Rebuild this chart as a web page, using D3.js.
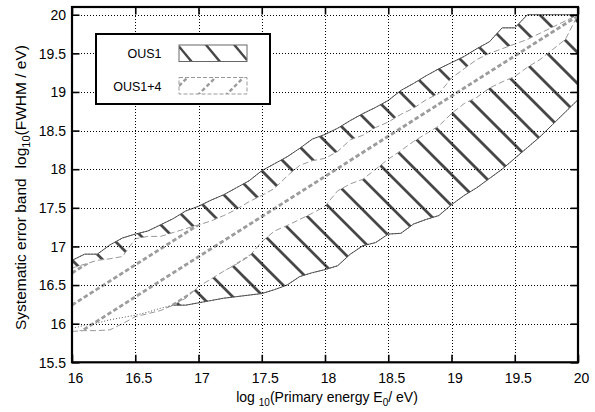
<!DOCTYPE html>
<html>
<head>
<meta charset="utf-8">
<script src="https://cdn.jsdelivr.net/npm/d3@7"></script>
<style>
  html, body { margin: 0; padding: 0; background: #fff; }
  svg { display: block; }
  text { font-family: "Liberation Sans", Arial, Helvetica, sans-serif; fill: #000; }
</style>
</head>
<body>
<svg id="chart" width="595" height="412"></svg>
<script>
// ---------------- data ----------------
const energy = [16.0,16.1,16.2,16.3,16.4,16.5,16.6,16.7,16.8,16.9,
                17.0,17.1,17.2,17.3,17.4,17.5,17.6,17.7,17.8,17.9,
                18.0,18.1,18.2,18.3,18.4,18.5,18.6,18.7,18.8,18.9,
                19.0,19.1,19.2,19.3,19.4,19.5,19.6,19.7,19.8,19.9,20.0];
// OUS1 band (solid outline, "\" hatch)
const ous1Upper = [16.82,16.90,16.90,17.02,17.11,17.16,17.20,17.28,17.36,17.46,
                   17.52,17.60,17.67,17.76,17.85,17.98,18.07,18.16,18.27,18.39,
                   18.45,18.53,18.63,18.72,18.80,18.89,19.02,19.11,19.21,19.30,
                   19.38,19.46,19.56,19.65,19.83,19.83,20.00,20.00,20.00,20.00,20.00];
const ous1Lower = [15.94,15.98,16.01,16.05,16.08,16.11,16.15,16.20,16.24,16.24,
                   16.27,16.30,16.33,16.35,16.37,16.39,16.44,16.50,16.61,16.66,
                   16.70,16.75,16.90,17.01,17.05,17.16,17.17,17.29,17.35,17.40,
                   17.54,17.66,17.76,17.88,18.00,18.14,18.28,18.42,18.58,18.74,18.90];
// OUS1+4 band (dashed outline, "/" dashed hatch)
const ous14Upper = [16.72,16.77,16.82,16.84,16.87,17.10,17.13,17.13,17.18,17.23,
                    17.28,17.33,17.40,17.48,17.58,17.66,17.75,17.91,18.05,18.11,
                    18.14,18.23,18.38,18.44,18.54,18.61,18.71,18.79,18.90,18.98,
                    19.18,19.30,19.42,19.50,19.56,19.62,19.68,19.76,19.84,19.92,20.00];
const ous14Lower = [15.90,15.91,15.91,15.92,16.00,16.09,16.13,16.17,16.24,16.33,
                    16.48,16.58,16.68,16.77,16.87,17.06,17.20,17.27,17.35,17.43,
                    17.52,17.72,17.81,17.87,18.00,18.13,18.24,18.36,18.46,18.56,
                    18.72,18.85,18.93,19.05,19.13,19.20,19.32,19.42,19.55,19.68,20.00];
const xTicks = [16,16.5,17,17.5,18,18.5,19,19.5,20];
const yTicks = [15.5,16,16.5,17,17.5,18,18.5,19,19.5,20];
const legendLabels = ["OUS1","OUS1+4"];

// ---------------- layout ----------------
const svg = d3.select("#chart");
const L = 72, R = 578, T = 7, B = 362.3;
const x = d3.scaleLinear().domain([16,20]).range([L,R]);
const y = d3.scaleLinear().domain([15.5,20.1]).range([B,T]);
const defs = svg.append("defs");

defs.append("clipPath").attr("id","plotClip")
  .append("rect").attr("x",L).attr("y",T).attr("width",R-L).attr("height",B-T);

const pts = energy.map((e,i)=>({e, u1:ous1Upper[i], l1:ous1Lower[i], u4:ous14Upper[i], l4:ous14Lower[i]}));
const area1 = d3.area().x(d=>x(d.e)).y0(d=>y(d.l1)).y1(d=>y(d.u1));
const area4 = d3.area().x(d=>x(d.e)).y0(d=>y(d.l4)).y1(d=>y(d.u4));
const lineU1 = d3.line().x(d=>x(d.e)).y(d=>y(d.u1));
const lineL1 = d3.line().x(d=>x(d.e)).y(d=>y(d.l1));
const lineU4 = d3.line().x(d=>x(d.e)).y(d=>y(d.u4));
const lineL4 = d3.line().x(d=>x(d.e)).y(d=>y(d.l4));

defs.append("clipPath").attr("id","clip1").append("path").attr("d",area1(pts));
defs.append("clipPath").attr("id","clip4").append("path").attr("d",area4(pts));

// hatch family: lines y = slope*x + c0 + k*step, drawn across a box, clipped
function hatchLines(g, box, slope, c0, step, style) {
  const [x0,y0,x1,y1] = box;
  const cs = [y0 - slope*x0, y0 - slope*x1, y1 - slope*x0, y1 - slope*x1];
  const cmin = Math.min(...cs), cmax = Math.max(...cs);
  const kmin = Math.floor((cmin - c0)/step), kmax = Math.ceil((cmax - c0)/step);
  for (let k = kmin; k <= kmax; k++) {
    const c = c0 + k*step;
    const ln = g.append("line").attr("x1",x0).attr("y1",slope*x0 + c)
      .attr("x2",x1).attr("y2",slope*x1 + c);
    Object.entries(style).forEach(([a,v])=>ln.attr(a,v));
  }
}

const plot = svg.append("g").attr("clip-path","url(#plotClip)");

// OUS1 band hatch "\"
const g1 = plot.append("g").attr("clip-path","url(#clip1)");
hatchLines(g1, [L,T,R,B], 1.0, 2, 31, {stroke:"#474747","stroke-width":2.7});
[lineU1, lineL1].forEach(l=>plot.append("path").attr("d",l(pts))
  .attr("fill","none").attr("stroke","#555").attr("stroke-width",1));
// OUS1+4 band (opaque white, dashed "/" hatch)
plot.append("path").attr("d",area4(pts)).attr("fill","#fff").attr("stroke","none");
const g4 = plot.append("g").attr("clip-path","url(#clip4)");
hatchLines(g4, [L,T,R,B], -0.635, 30.8, 32, {stroke:"#9c9c9c","stroke-width":2.8,"stroke-dasharray":"4.5,2.5"});
// OUS1 outline seen through (dotted)
[lineU1, lineL1].forEach(l=>plot.append("path").attr("d",l(pts))
  .attr("fill","none").attr("stroke","#444").attr("stroke-width",0.9).attr("stroke-dasharray","1,2"));

// grid
const grid = svg.append("g").attr("stroke","#000").attr("stroke-width",1)
  .attr("stroke-dasharray","1,2").attr("shape-rendering","crispEdges");
xTicks.filter(v=>v>16 && v<20).forEach(v=>grid.append("line")
  .attr("x1",Math.round(x(v))+0.5).attr("x2",Math.round(x(v))+0.5).attr("y1",T).attr("y2",B));
yTicks.filter(v=>v>15.5).forEach(v=>grid.append("line")
  .attr("x1",L).attr("x2",R).attr("y1",Math.round(y(v))+0.5).attr("y2",Math.round(y(v))+0.5));

// OUS1+4 outline
[lineU4, lineL4].forEach(l=>plot.append("path").attr("d",l(pts))
  .attr("fill","none").attr("stroke","#999").attr("stroke-width",1).attr("stroke-dasharray","6,3"));

// axes (bottom/left with labels, top/right mirrored ticks)
const fs = "14px";
const ax = svg.append("g");
const xb = ax.append("g").attr("transform",`translate(0,${B})`)
  .call(d3.axisBottom(x).tickValues(xTicks).tickFormat(d3.format("")).tickSizeInner(-7.5).tickSizeOuter(0).tickPadding(11));
const yl = ax.append("g").attr("transform",`translate(${L},0)`)
  .call(d3.axisLeft(y).tickValues(yTicks).tickFormat(d3.format("")).tickSizeInner(-7.5).tickSizeOuter(0).tickPadding(6));
ax.append("g").attr("transform",`translate(0,${T})`)
  .call(d3.axisTop(x).tickValues(xTicks).tickFormat("").tickSizeInner(-7.5).tickSizeOuter(0));
ax.append("g").attr("transform",`translate(${R},0)`)
  .call(d3.axisRight(y).tickValues(yTicks).tickFormat("").tickSizeInner(-7.5).tickSizeOuter(0));
ax.selectAll(".domain").remove();
ax.selectAll(".tick line").attr("stroke","#000").attr("stroke-width",1.6);
xb.selectAll(".tick text").attr("font-size",fs).attr("font-family","Liberation Sans, Arial, sans-serif")
  .attr("dx","3").attr("fill","#000");
yl.selectAll(".tick text").attr("font-size",fs).attr("font-family","Liberation Sans, Arial, sans-serif")
  .attr("fill","#000").attr("dy","0.34em");
// frame
svg.append("rect").attr("x",L).attr("y",T).attr("width",R-L).attr("height",B-T)
  .attr("fill","none").attr("stroke","#000").attr("stroke-width",2.2);

// axis titles
const xt2 = svg.append("text").attr("x",327).attr("y",402).attr("text-anchor","middle").attr("font-size","14px");
xt2.append("tspan").text("log ");
xt2.append("tspan").attr("font-size","10px").attr("dy",4).text("10");
xt2.append("tspan").attr("dy",-4).text("(Primary energy E");
xt2.append("tspan").attr("font-size","10px").attr("dy",4).text("0");
xt2.append("tspan").attr("dy",-4).text("/ eV)");

const yt = svg.append("text").attr("transform","translate(25.5,330) rotate(-90)")
  .attr("text-anchor","start").attr("font-size","15.5px");
yt.append("tspan").text("Systematic error band");
yt.append("tspan").attr("dx",10).text("log");
yt.append("tspan").attr("font-size","11px").attr("dy",4).text("10");
yt.append("tspan").attr("dy",-4).text("(FWHM / eV)");

// legend
const lg = svg.append("g");
lg.append("rect").attr("x",96).attr("y",34).attr("width",174).attr("height",70)
  .attr("fill","#fff").attr("stroke","#000").attr("stroke-width",2);
lg.append("text").attr("x",161.5).attr("y",58.3).attr("text-anchor","end").attr("font-size","12.5px").text(legendLabels[0]);
lg.append("text").attr("x",161.5).attr("y",90.7).attr("text-anchor","end").attr("font-size","12.5px").text(legendLabels[1]);
const s1 = [179,45,247,61.5], s4 = [179,77.5,247,94];
defs.append("clipPath").attr("id","clipL1").append("rect")
  .attr("x",s1[0]).attr("y",s1[1]).attr("width",s1[2]-s1[0]).attr("height",s1[3]-s1[1]);
defs.append("clipPath").attr("id","clipL4").append("rect")
  .attr("x",s4[0]).attr("y",s4[1]).attr("width",s4[2]-s4[0]).attr("height",s4[3]-s4[1]);
hatchLines(lg.append("g").attr("clip-path","url(#clipL1)"), s1, 1.2, 53.7 - 1.2*185, 34, {stroke:"#474747","stroke-width":2.4});
hatchLines(lg.append("g").attr("clip-path","url(#clipL4)"), s4, -1.0, 85 + 208, 28, {stroke:"#9c9c9c","stroke-width":2.4,"stroke-dasharray":"4,2.5"});
lg.append("rect").attr("x",s1[0]).attr("y",s1[1]).attr("width",s1[2]-s1[0]).attr("height",s1[3]-s1[1])
  .attr("fill","none").attr("stroke","#666").attr("stroke-width",1);
lg.append("rect").attr("x",s4[0]).attr("y",s4[1]).attr("width",s4[2]-s4[0]).attr("height",s4[3]-s4[1])
  .attr("fill","none").attr("stroke","#999").attr("stroke-width",1).attr("stroke-dasharray","4,2");
</script>
</body>
</html>
